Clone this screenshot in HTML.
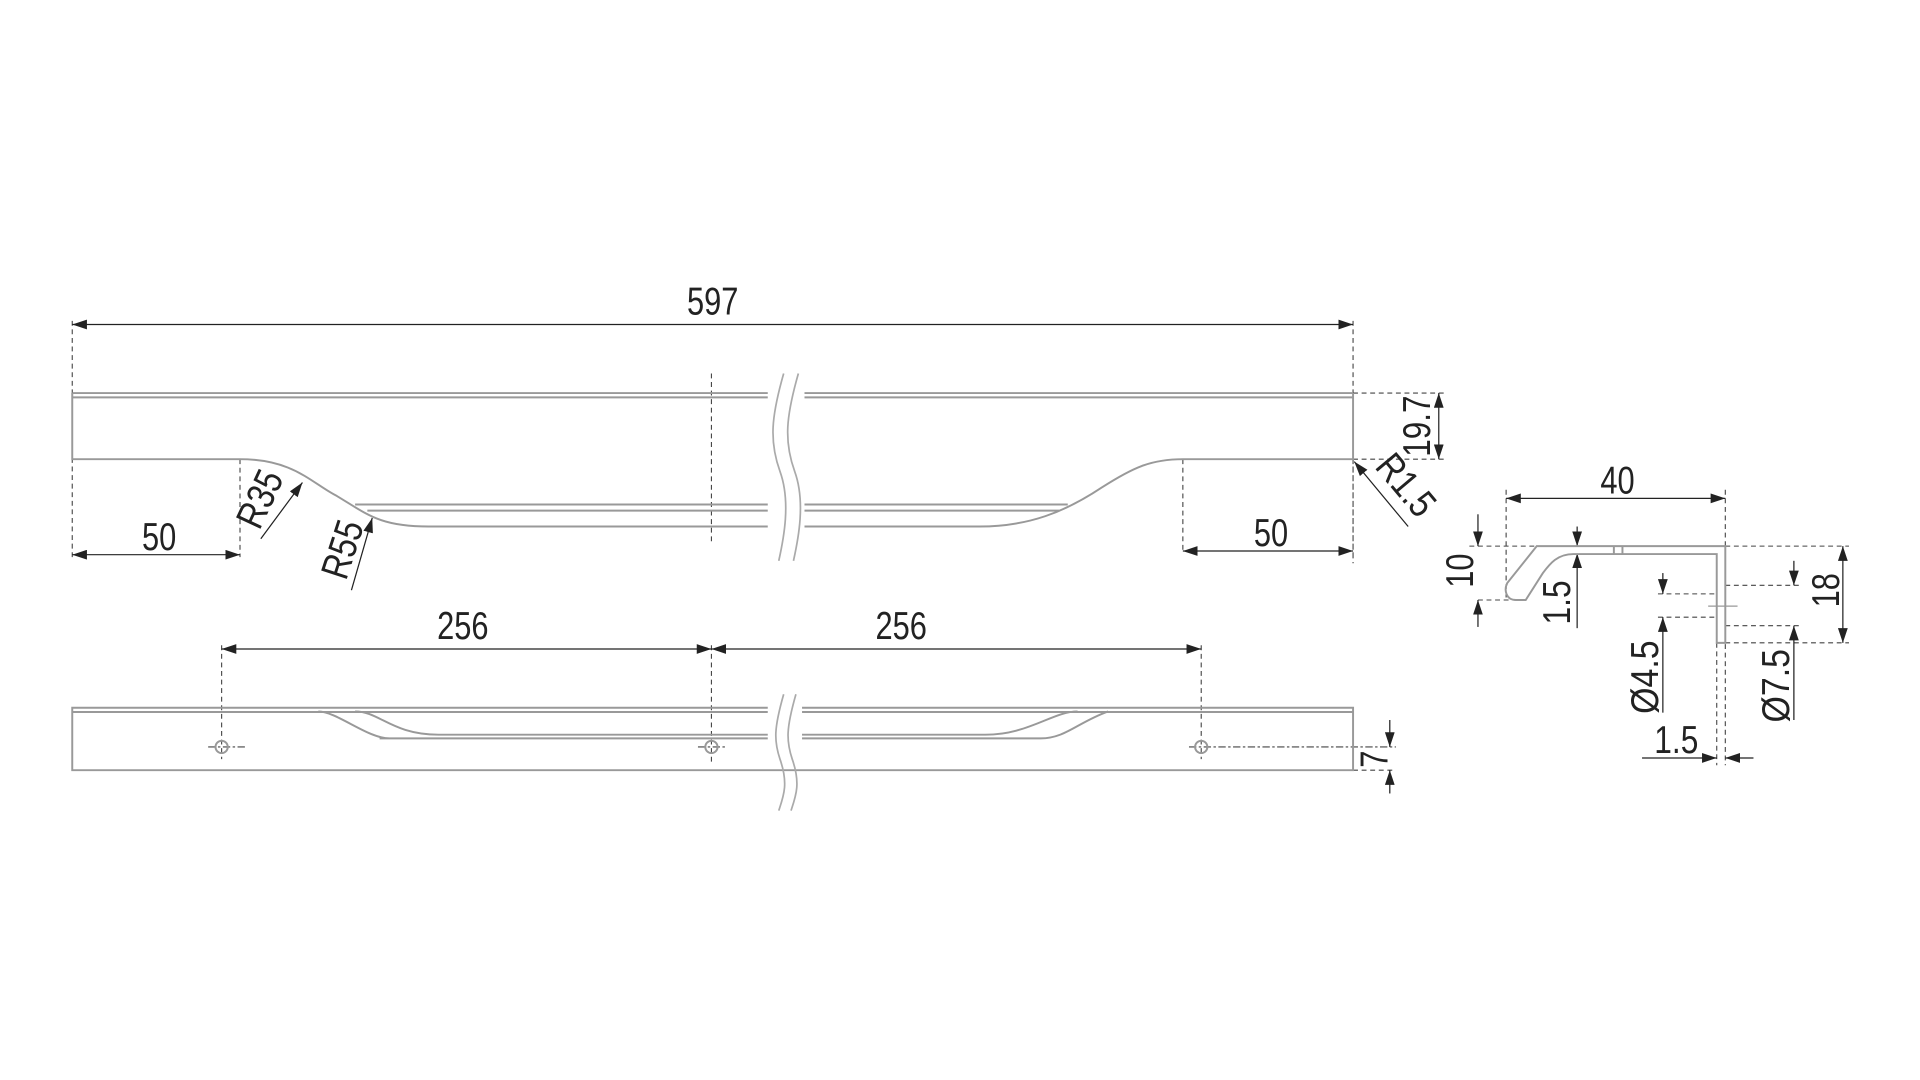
<!DOCTYPE html>
<html><head><meta charset="utf-8"><style>
html,body{margin:0;padding:0;background:#fff;}
svg{display:block}
text{font-family:"Liberation Sans Narrow","Liberation Sans",sans-serif;font-size:32px;fill:#222;}
</style></head><body>
<svg width="1920" height="1080" viewBox="0 0 1568 882" xmlns="http://www.w3.org/2000/svg">
<defs>
<marker id="a" viewBox="0 0 12 8" refX="12" refY="4" markerWidth="12" markerHeight="8" markerUnits="userSpaceOnUse" orient="auto-start-reverse"><path d="M0,0L12,4L0,8z" fill="#222"/></marker>
</defs>
<g fill="none" stroke="#444" stroke-width="0.9" stroke-dasharray="4,3">
<path d="M59,262V455M1105,262V455M196,375V455M966,375V452M581,305V445M1105,321H1180M1105,375H1180M1105,375V460"/>
<path d="M181,527V620M581,527V625M981,527V620M1105,629H1140" />
<path d="M971,610H1140M170,610H200M570,610H592" stroke-dasharray="6,2,2,2"/>
<path d="M1230,400V490M1409,400V625M1402,525V625M1200,446H1255M1207,490H1240M1354,485H1402M1354,504H1402M1409,478H1470M1409,511H1470M1409,446H1510M1409,525H1510"/>
</g>
<g stroke="#222" stroke-width="1" fill="none">
<path d="M59,265H1105" marker-start="url(#a)" marker-end="url(#a)"/>
<path d="M59,453H196" marker-start="url(#a)" marker-end="url(#a)"/>
<path d="M966,450H1105" marker-start="url(#a)" marker-end="url(#a)"/>
<path d="M1175,321V375" marker-start="url(#a)" marker-end="url(#a)"/>
<path d="M213,440L247,394" marker-end="url(#a)"/>
<path d="M287,482L304,423" marker-end="url(#a)"/>
<path d="M1150,430L1106,377" marker-end="url(#a)"/>
<path d="M181,530H581" marker-start="url(#a)" marker-end="url(#a)"/>
<path d="M581,530H981" marker-start="url(#a)" marker-end="url(#a)"/>
<path d="M1135,588V610" marker-end="url(#a)"/>
<path d="M1135,648V629" marker-end="url(#a)"/>
<path d="M1230,407H1409" marker-start="url(#a)" marker-end="url(#a)"/>
<path d="M1207,420V446" marker-end="url(#a)"/>
<path d="M1207,512V490" marker-end="url(#a)"/>
<path d="M1288,430V446" marker-end="url(#a)"/>
<path d="M1288,513V452" marker-end="url(#a)"/>
<path d="M1358,468V485" marker-end="url(#a)"/>
<path d="M1358,582V504" marker-end="url(#a)"/>
<path d="M1465,458V478" marker-end="url(#a)"/>
<path d="M1465,588V511" marker-end="url(#a)"/>
<path d="M1505,446V525" marker-start="url(#a)" marker-end="url(#a)"/>
<path d="M1341,619H1402" marker-end="url(#a)"/>
<path d="M1432,619H1409" marker-end="url(#a)"/>
<path d="M1395,495H1419" stroke="#999"/>
</g>
<g stroke="#999" stroke-width="1.6" fill="none">
<path d="M59,321H1105M59,324.5H1105M59,321V375H196C240,375 255,395 275,405C300,420 310,430 350,430H800C840,430 870,418 900,398C925,382 940,375 966,375H1105V321"/>
<path d="M290,412H872M300,417H865"/>
<path d="M59,578H1105V629H59ZM59,581.5H1105"/>
<path d="M260,581C275,581 300,603 318,603H355M290,581C310,581 320,600 358,600H805C840,600 860,581 880,581M310,603H850C870,603 880,590 905,581"/>
<circle cx="181" cy="610" r="5"/><circle cx="581" cy="610" r="5"/><circle cx="981" cy="610" r="5"/>
<path d="M1255,446H1409V525H1402V452.5H1285C1272,452.5 1266,460 1260,468L1246,490H1238C1230,490 1228,482 1231,476Z"/>
<path d="M1318,446V452.5M1325,446V452.5"/>
</g>
<g fill="#fff" stroke="none"><rect x="627" y="318" width="30" height="10"/><rect x="627" y="408" width="30" height="26"/><rect x="627" y="575" width="28" height="10"/><rect x="627" y="596" width="28" height="10"/></g>
<g stroke="#aaa" stroke-width="1.4" fill="none">
<path d="M640,305C630,340 628,360 637,385C646,410 640,440 636,458M652,305C642,340 640,360 649,385C658,410 652,440 648,458"/>
<path d="M640,567C632,595 632,605 637,620C644,640 640,650 636,662M650,567C642,595 642,605 647,620C654,640 650,650 646,662"/>
</g>
<g lengthAdjust="spacingAndGlyphs">
<text x="561" y="257" textLength="42" lengthAdjust="spacingAndGlyphs">597</text>
<text x="116" y="449" textLength="28" lengthAdjust="spacingAndGlyphs">50</text>
<text x="1024" y="446" textLength="28" lengthAdjust="spacingAndGlyphs">50</text>
<text x="357" y="522" textLength="42" lengthAdjust="spacingAndGlyphs">256</text>
<text x="715" y="522" textLength="42" lengthAdjust="spacingAndGlyphs">256</text>
<text x="1307" y="403" textLength="28" lengthAdjust="spacingAndGlyphs">40</text>
<text x="1351" y="615" textLength="36" lengthAdjust="spacingAndGlyphs">1.5</text>
<text transform="translate(222,412) rotate(-65)" text-anchor="middle" textLength="48" lengthAdjust="spacingAndGlyphs">R35</text>
<text transform="translate(290,452) rotate(-72)" text-anchor="middle" textLength="48" lengthAdjust="spacingAndGlyphs">R55</text>
<text transform="translate(1168,348) rotate(-90)" text-anchor="middle" textLength="50" lengthAdjust="spacingAndGlyphs">19.7</text>
<text transform="translate(1140,403) rotate(50)" text-anchor="middle" textLength="56" lengthAdjust="spacingAndGlyphs">R1.5</text>
<text transform="translate(1133,620) rotate(-90)" text-anchor="middle" textLength="14" lengthAdjust="spacingAndGlyphs">7</text>
<text transform="translate(1203,466) rotate(-90)" text-anchor="middle" textLength="28" lengthAdjust="spacingAndGlyphs">10</text>
<text transform="translate(1282,492) rotate(-90)" text-anchor="middle" textLength="36" lengthAdjust="spacingAndGlyphs">1.5</text>
<text transform="translate(1354,553) rotate(-90)" text-anchor="middle" textLength="60" lengthAdjust="spacingAndGlyphs">Ø4.5</text>
<text transform="translate(1461,560) rotate(-90)" text-anchor="middle" textLength="60" lengthAdjust="spacingAndGlyphs">Ø7.5</text>
<text transform="translate(1502,482) rotate(-90)" text-anchor="middle" textLength="28" lengthAdjust="spacingAndGlyphs">18</text>
</g>
</svg>
</body></html>
